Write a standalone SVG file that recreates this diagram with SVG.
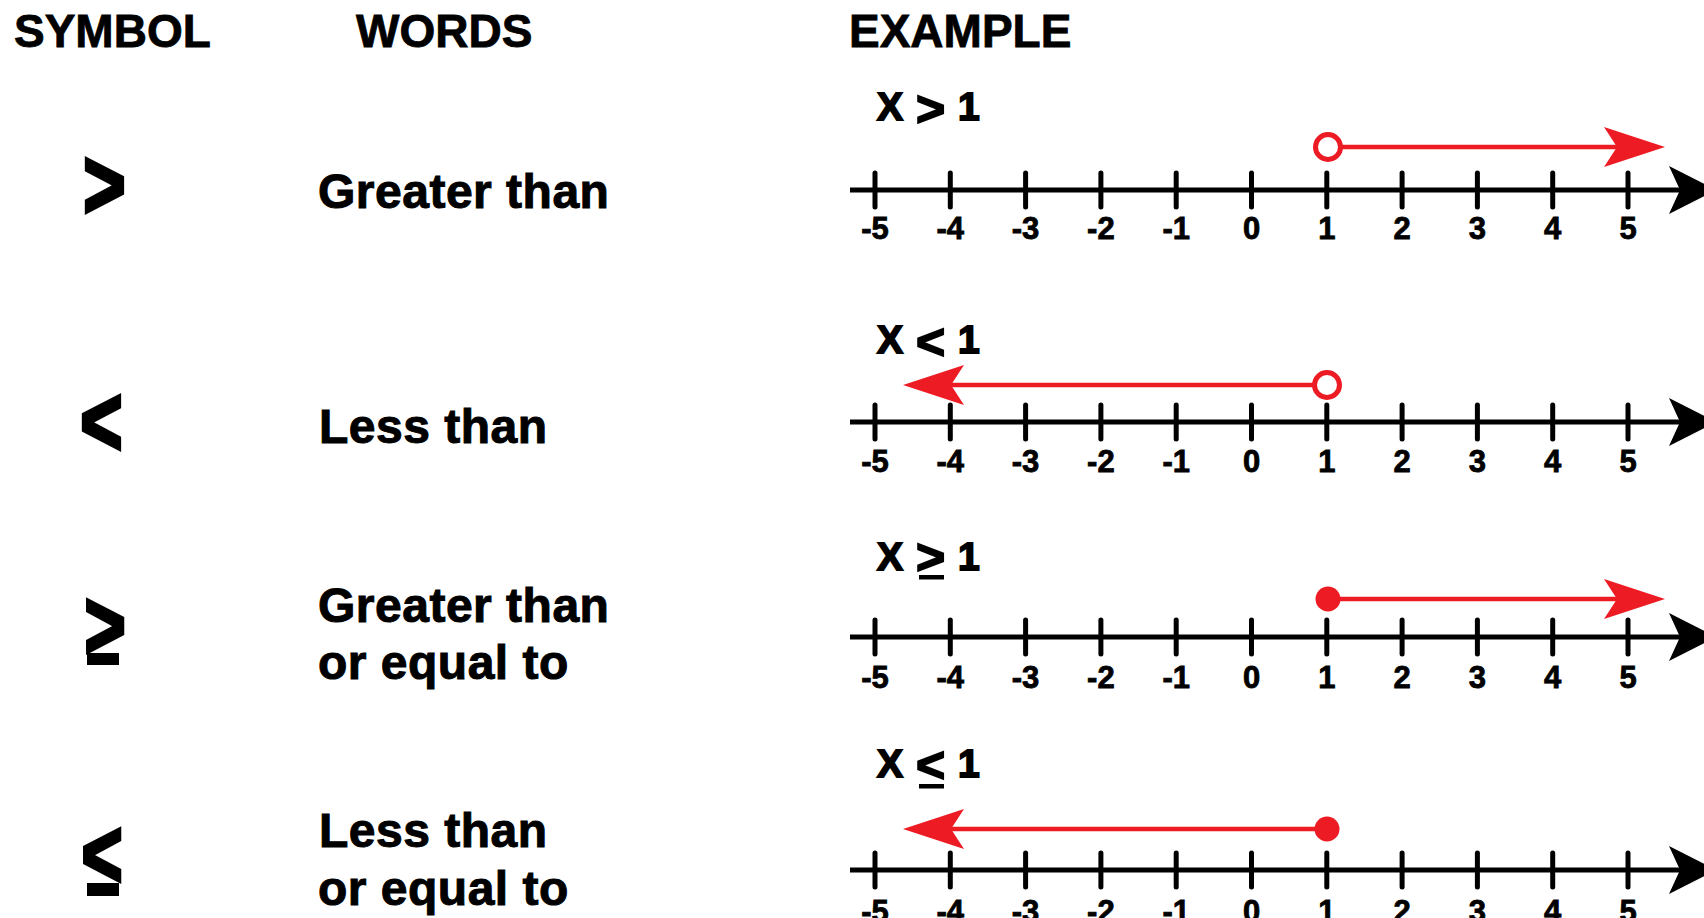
<svg xmlns="http://www.w3.org/2000/svg" width="1704" height="918" viewBox="0 0 1704 918">
<style>
.hd{font-family:"Liberation Sans",Arial,sans-serif;font-weight:bold;font-size:46px;fill:#000;stroke:#000;stroke-width:0.8}
.wd{font-family:"Liberation Sans",Arial,sans-serif;font-weight:bold;font-size:48px;fill:#000;stroke:#000;stroke-width:1;letter-spacing:0.5px}
.sym{font-family:"Liberation Sans",Arial,sans-serif;font-weight:bold;font-size:98px;fill:#000;stroke:#000;stroke-width:4}
.ex{font-family:"Liberation Sans",Arial,sans-serif;font-weight:bold;font-size:39px;fill:#000;stroke:#000;stroke-width:1.8}
.exs{font-size:50px}
.lb{font-family:"Liberation Sans",Arial,sans-serif;font-weight:bold;font-size:31px;fill:#000;stroke:#000;stroke-width:0.8;text-anchor:middle}
.axis{stroke:#000;stroke-width:5;fill:none}
.tick{stroke:#000;stroke-width:5;stroke-linecap:round}
.ah{fill:#000}
.rl{stroke:#ED1C24;stroke-width:4.5;fill:none}
.ra{fill:#ED1C24}
.open{fill:#fff;stroke:#ED1C24;stroke-width:5}
.dot{fill:#ED1C24}
</style>
<defs>
<g id="ticks">
<line class="tick" x1="875" y1="-17" x2="875" y2="17"/>
<line class="tick" x1="950.3" y1="-17" x2="950.3" y2="17"/>
<line class="tick" x1="1025.6" y1="-17" x2="1025.6" y2="17"/>
<line class="tick" x1="1100.9" y1="-17" x2="1100.9" y2="17"/>
<line class="tick" x1="1176.2" y1="-17" x2="1176.2" y2="17"/>
<line class="tick" x1="1251.5" y1="-17" x2="1251.5" y2="17"/>
<line class="tick" x1="1326.8" y1="-17" x2="1326.8" y2="17"/>
<line class="tick" x1="1402.1" y1="-17" x2="1402.1" y2="17"/>
<line class="tick" x1="1477.4" y1="-17" x2="1477.4" y2="17"/>
<line class="tick" x1="1552.7" y1="-17" x2="1552.7" y2="17"/>
<line class="tick" x1="1628" y1="-17" x2="1628" y2="17"/>
<line class="axis" x1="850" y1="0" x2="1685" y2="0"/>
<path class="ah" d="M1716,0 L1669,-24 L1680,0 L1669,24 Z"/>
</g>
</defs>

<g id="headers">
<text class="hd" x="14" y="47">SYMBOL</text>
<text class="hd" x="356" y="47">WORDS</text>
<text class="hd" x="849" y="47">EXAMPLE</text>
</g>

<!-- Row 1: greater than -->
<g id="row-gt">
<text class="sym" transform="translate(87,218) scale(0.74,1)" x="-5">&gt;</text>
<text class="wd" x="318" y="208">Greater than</text>
<text class="ex" x="877" y="120">X<tspan class="exs" x="916" y="126">&gt;</tspan><tspan x="958" y="120">1</tspan></text>
<use href="#ticks" transform="translate(0,190)"/>
<g class="lbls">
<text class="lb" x="875" y="239">-5</text><text class="lb" x="950.3" y="239">-4</text><text class="lb" x="1025.6" y="239">-3</text><text class="lb" x="1100.9" y="239">-2</text><text class="lb" x="1176.2" y="239">-1</text><text class="lb" x="1251.5" y="239">0</text><text class="lb" x="1326.8" y="239">1</text><text class="lb" x="1402.1" y="239">2</text><text class="lb" x="1477.4" y="239">3</text><text class="lb" x="1552.7" y="239">4</text><text class="lb" x="1628" y="239">5</text>
</g>
<line class="rl" x1="1340" y1="147" x2="1625" y2="147"/>
<path class="ra" d="M1665,147 L1604,127 L1617,147 L1604,167 Z"/>
<circle class="open" cx="1328" cy="147" r="12.5"/>
</g>

<!-- Row 2: less than -->
<g id="row-lt">
<text class="sym" transform="translate(84,455) scale(0.74,1)" x="-5">&lt;</text>
<text class="wd" x="319" y="443">Less than</text>
<text class="ex" x="877" y="353">X<tspan class="exs" x="916" y="359">&lt;</tspan><tspan x="958" y="353">1</tspan></text>
<use href="#ticks" transform="translate(0,422)"/>
<g class="lbls">
<text class="lb" x="875" y="472">-5</text><text class="lb" x="950.3" y="472">-4</text><text class="lb" x="1025.6" y="472">-3</text><text class="lb" x="1100.9" y="472">-2</text><text class="lb" x="1176.2" y="472">-1</text><text class="lb" x="1251.5" y="472">0</text><text class="lb" x="1326.8" y="472">1</text><text class="lb" x="1402.1" y="472">2</text><text class="lb" x="1477.4" y="472">3</text><text class="lb" x="1552.7" y="472">4</text><text class="lb" x="1628" y="472">5</text>
</g>
<line class="rl" x1="1315" y1="385" x2="945" y2="385"/>
<path class="ra" d="M903,385 L964,365 L951,385 L964,405 Z"/>
<circle class="open" cx="1327" cy="385" r="12.5"/>
</g>

<!-- Row 3: greater than or equal to -->
<g id="row-ge">
<text class="sym" transform="translate(88,658) scale(0.72,0.98)" x="-5">&gt;</text>
<rect x="87" y="653" width="32" height="12" fill="#000"/>
<text class="wd" x="318" y="622">Greater than</text>
<text class="wd" x="318" y="679">or equal to</text>
<text class="ex" x="877" y="570">X<tspan class="exs" x="916" y="574">&gt;</tspan><tspan x="958" y="570">1</tspan></text>
<rect x="919" y="575" width="25" height="4.5" fill="#000"/>
<use href="#ticks" transform="translate(0,637)"/>
<g class="lbls">
<text class="lb" x="875" y="688">-5</text><text class="lb" x="950.3" y="688">-4</text><text class="lb" x="1025.6" y="688">-3</text><text class="lb" x="1100.9" y="688">-2</text><text class="lb" x="1176.2" y="688">-1</text><text class="lb" x="1251.5" y="688">0</text><text class="lb" x="1326.8" y="688">1</text><text class="lb" x="1402.1" y="688">2</text><text class="lb" x="1477.4" y="688">3</text><text class="lb" x="1552.7" y="688">4</text><text class="lb" x="1628" y="688">5</text>
</g>
<line class="rl" x1="1330" y1="599" x2="1625" y2="599"/>
<path class="ra" d="M1665,599 L1604,579 L1617,599 L1604,619 Z"/>
<circle class="dot" cx="1328" cy="599" r="12.5"/>
</g>

<!-- Row 4: less than or equal to -->
<g id="row-le">
<text class="sym" transform="translate(85,887) scale(0.72,0.98)" x="-5">&lt;</text>
<rect x="87" y="883" width="32" height="13" fill="#000"/>
<text class="wd" x="319" y="847">Less than</text>
<text class="wd" x="318" y="905">or equal to</text>
<text class="ex" x="877" y="777">X<tspan class="exs" x="916" y="782">&lt;</tspan><tspan x="958" y="777">1</tspan></text>
<rect x="919" y="784" width="25" height="4.5" fill="#000"/>
<use href="#ticks" transform="translate(0,870)"/>
<g class="lbls">
<text class="lb" x="875" y="922">-5</text><text class="lb" x="950.3" y="922">-4</text><text class="lb" x="1025.6" y="922">-3</text><text class="lb" x="1100.9" y="922">-2</text><text class="lb" x="1176.2" y="922">-1</text><text class="lb" x="1251.5" y="922">0</text><text class="lb" x="1326.8" y="922">1</text><text class="lb" x="1402.1" y="922">2</text><text class="lb" x="1477.4" y="922">3</text><text class="lb" x="1552.7" y="922">4</text><text class="lb" x="1628" y="922">5</text>
</g>
<line class="rl" x1="1320" y1="829" x2="945" y2="829"/>
<path class="ra" d="M903,829 L964,809 L951,829 L964,849 Z"/>
<circle class="dot" cx="1327" cy="829" r="12.5"/>
</g>
</svg>
